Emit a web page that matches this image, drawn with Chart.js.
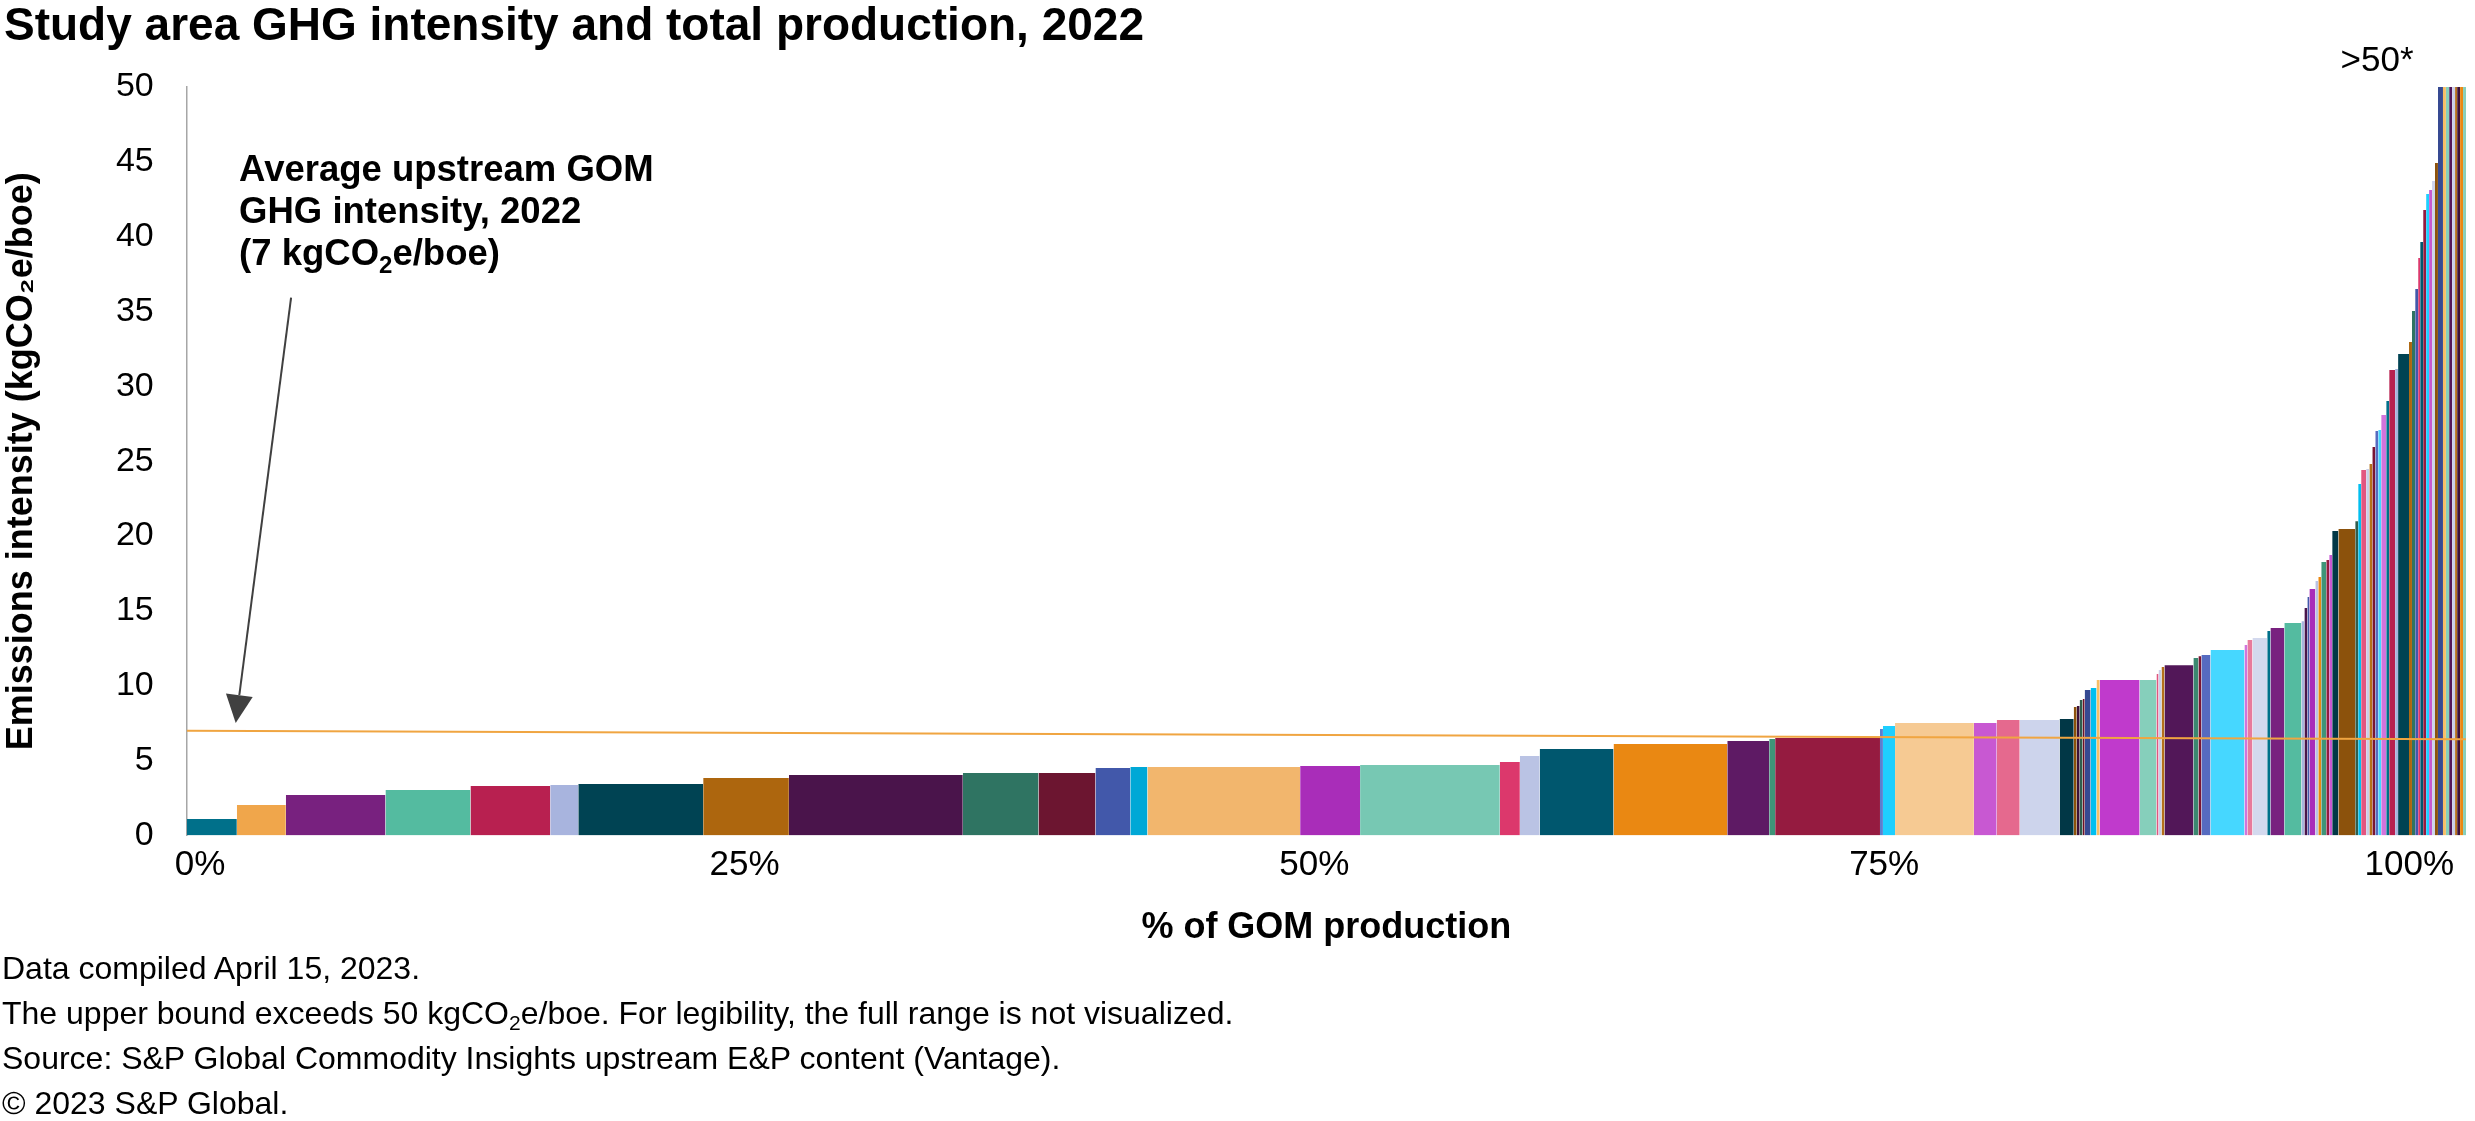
<!DOCTYPE html>
<html>
<head>
<meta charset="utf-8">
<script src="https://cdn.jsdelivr.net/npm/chart.js@4.4.0/dist/chart.umd.min.js"></script>
<style>
html,body{margin:0;padding:0;background:#fff;}
body{width:2475px;height:1121px;position:relative;overflow:hidden;font-family:'Liberation Sans',Arial,sans-serif;color:#000;}
#wrap{position:absolute;left:0;top:0;width:2475px;height:950px;}
#title{position:absolute;left:4px;top:-4px;font-size:46px;font-weight:bold;line-height:56px;white-space:nowrap;}
#notes{position:absolute;left:2px;top:946px;font-size:32px;line-height:45px;white-space:nowrap;}
#notes sub{font-size:21px;line-height:0;vertical-align:-6px;}
</style>
</head>
<body>
<div id="wrap"><canvas id="c"></canvas></div>
<div id="title">Study area GHG intensity and total production, 2022</div>
<div id="notes">Data compiled April 15, 2023.<br>The upper bound exceeds 50 kgCO<sub>2</sub>e/boe. For legibility, the full range is not visualized.<br>Source: S&amp;P Global Commodity Insights upstream E&amp;P content (Vantage).<br>© 2023 S&amp;P Global.</div>
<script>
const FONT = "'Liberation Sans', Arial, sans-serif";

// Share of GOM production per field (% of total), sorted by intensity
const shares = [
 2.20,2.15,4.37,3.73,3.50,1.23,5.48,3.76,7.63,3.32,
 2.50,1.53,0.75,6.70,2.63,6.13,0.88,0.87,3.24,4.99,
 1.84,0.26,4.60,0.13,0.53,3.46,1.00,1.01,1.75,0.62,
 0.13,0.13,0.13,0.09,0.26,0.26,0.14,1.75,0.74,0.09,
 0.13,0.13,1.27,0.22,0.13,0.40,1.49,0.13,0.22,0.65,
 0.14,0.61,0.75,0.13,0.13,0.09,0.26,0.13,0.13,0.22,
 0.13,0.13,0.27,0.74,0.13,0.13,0.22,0.14,0.13,0.13,
 0.13,0.13,0.22,0.13,0.26,0.13,0.48,0.13,0.14,0.13,
 0.09,0.13,0.13,0.13,0.13,0.13,0.13,0.22,0.13,0.14,
 0.13,0.13,0.09,0.13,0.13,0.13
];

// GHG intensity per field (kgCO2e/boe)
const intensity = [
 1.10,2.04,2.71,3.04,3.31,3.37,3.44,3.84,4.04,4.17,
 4.17,4.51,4.58,4.58,4.64,4.71,4.91,5.31,5.78,6.11,
 6.31,6.45,6.51,7.11,7.31,7.51,7.51,7.71,7.71,7.78,
 8.58,8.65,9.05,9.12,9.72,9.85,10.38,10.38,10.38,10.78,
 11.05,11.25,11.38,11.85,11.98,12.05,12.39,12.73,13.06,13.19,
 13.66,13.86,14.19,14.32,15.19,15.93,16.46,17.00,17.27,18.27,
 18.40,18.74,20.34,20.47,21.00,23.48,24.42,24.48,24.82,25.95,
 27.02,27.09,28.09,29.03,31.10,31.17,32.17,32.97,35.04,36.50,
 38.58,39.64,41.78,42.85,43.12,43.72,44.92,55,60,65,
 72,80,90,110,140,190
];

// Average upstream GOM GHG intensity line
const avgX = [0, 100];
const avgY = [7.0, 6.43];

// Axis ticks
const xTickValues = [0, 25, 50, 75, 100];
const yTickStep = 5;
const yMax = 50;

const barColors = [
 '#00708a','#f0a64b','#78217f','#54bba0','#b82050','#a8b4de','#004353','#ad660e','#4a144b','#2f7462',
 '#6c1530','#4258aa','#00a8d6','#f2b66d','#a92db9','#77c8b3','#dc386c','#bac3e4','#00576e','#ea8812',
 '#5e1a64','#3f9478','#951b40','#5b7fd0','#1ecfff','#f6ca93','#c858d2','#e5698e','#cdd4ec','#013746',
 '#8c520c','#3c1139','#2f5e4e','#6f1027','#364a92','#00bff0','#f7be66','#c03acc','#86cfbb','#e25680',
 '#c9cfe8','#b5701a','#521758','#3b8870','#7a1532','#566bc0','#46d7ff','#d274dc','#e87a9c','#d3d9ee',
 '#00708a','#78217f','#54bba0','#a8b4de','#4a144b','#4258aa','#a92db9','#bac3e4','#ea8812','#3f9478',
 '#951b40','#c858d2','#013746','#8c520c','#2f5e4e','#00bff0','#e25680','#c9cfe8','#b5701a','#7a1532',
 '#566bc0','#46d7ff','#d274dc','#00708a','#b82050','#a8b4de','#004353','#ad660e','#2f7462','#4258aa',
 '#dc386c','#00576e','#951b40','#1ecfff','#c858d2','#cdd4ec','#8c520c','#364a92','#f7be66','#86cfbb',
 '#521758','#c9cfe8','#b5701a','#3c1139','#ea8812','#86cfbb'
];

// Build datasets: each field is a filled step from its cumulative start to end
const starts = [];
let acc = 0;
shares.forEach(s => { starts.push(acc); acc += s; });

const datasets = intensity.map((v, i) => ({
  type: 'line',
  data: [{x: starts[i], y: v}, {x: starts[i] + shares[i], y: v}],
  backgroundColor: barColors[i],
  borderColor: 'rgba(0,0,0,0)',
  borderWidth: 0,
  pointRadius: 0,
  fill: 'origin',
  order: 1
}));
datasets.unshift({
  type: 'line',
  data: avgX.map((x, i) => ({x: x, y: avgY[i]})),
  borderColor: '#f0a541',
  borderWidth: 2,
  pointRadius: 0,
  fill: false,
  order: 0
});

// Annotation placement (data units)
const noteAt = [2.3, 43.72];
const noteLineGap = 42;
const noteLines = [
  [{t: 'Average upstream GOM'}],
  [{t: 'GHG intensity, 2022'}],
  [{t: '(7 kgCO'}, {t: '2', sub: true}, {t: 'e/boe)'}]
];
const arrowFrom = [4.58, 35.93];
const arrowTo = [2.15, 7.52];
const capLabel = '>50*';
const capAt = [96.1, 51.07];

const annotationPlugin = {
  id: 'annotations',
  afterDraw(chart) {
    const {ctx, scales: {x, y}} = chart;
    ctx.save();
    ctx.fillStyle = '#000';
    ctx.textAlign = 'left';
    ctx.textBaseline = 'alphabetic';
    const x0 = x.getPixelForValue(noteAt[0]);
    const y0 = y.getPixelForValue(noteAt[1]);
    noteLines.forEach((segs, i) => {
      let cx = x0;
      const by = y0 + i * noteLineGap;
      segs.forEach(seg => {
        ctx.font = seg.sub ? 'bold 24px ' + FONT : 'bold 36.5px ' + FONT;
        ctx.fillText(seg.t, cx, by + (seg.sub ? 8 : 0));
        cx += ctx.measureText(seg.t).width;
      });
    });
    // arrow
    const ax = x.getPixelForValue(arrowFrom[0]), ay = y.getPixelForValue(arrowFrom[1]);
    const bx = x.getPixelForValue(arrowTo[0]), by2 = y.getPixelForValue(arrowTo[1]);
    const dx = bx - ax, dy = by2 - ay, len = Math.hypot(dx, dy);
    const ux = dx / len, uy = dy / len;
    const headLen = 28, headHalf = 13.5;
    const baseX = bx - ux * headLen, baseY = by2 - uy * headLen;
    ctx.strokeStyle = '#404040';
    ctx.fillStyle = '#404040';
    ctx.lineWidth = 2;
    ctx.beginPath();
    ctx.moveTo(ax, ay);
    ctx.lineTo(baseX, baseY);
    ctx.stroke();
    ctx.beginPath();
    ctx.moveTo(bx, by2);
    ctx.lineTo(baseX - uy * headHalf, baseY + ux * headHalf);
    ctx.lineTo(baseX + uy * headHalf, baseY - ux * headHalf);
    ctx.closePath();
    ctx.fill();
    // >50* label
    ctx.fillStyle = '#000';
    ctx.font = '35px ' + FONT;
    ctx.textAlign = 'center';
    ctx.fillText(capLabel, x.getPixelForValue(capAt[0]), y.getPixelForValue(capAt[1]));
    ctx.restore();
  }
};

Chart.defaults.font.family = FONT;
Chart.defaults.color = '#000';

new Chart(document.getElementById('c'), {
  type: 'line',
  data: {datasets: datasets},
  options: {
    responsive: true,
    maintainAspectRatio: false,
    devicePixelRatio: 1,
    animation: false,
    events: [],
    layout: {padding: {top: 87, right: 5, left: 0, bottom: 0}},
    plugins: {legend: {display: false}, tooltip: {enabled: false}, title: {display: false}},
    scales: {
      x: {
        type: 'linear',
        min: 0,
        max: 100,
        afterBuildTicks: s => { s.ticks = xTickValues.map(v => ({value: v})); },
        afterFit: s => { s.height = 114.5; },
        ticks: {
          callback: v => v + '%',
          align: 'inner',
          labelOffset: -12,
          padding: 9,
          autoSkip: false,
          maxRotation: 0,
          font: {size: 35},
          color: '#000'
        },
        grid: {display: false, drawTicks: false},
        border: {display: false},
        title: {display: true, text: '% of GOM production', font: {size: 36, weight: 'bold'}, color: '#000', padding: 0}
      },
      y: {
        type: 'linear',
        min: 0,
        max: yMax,
        afterFit: s => { s.width = 186.7; },
        ticks: {stepSize: yTickStep, padding: 33, font: {size: 34}, color: '#000'},
        grid: {display: false, drawTicks: false},
        border: {display: true, color: '#a6a6a6', width: 1.5},
        title: {display: true, text: 'Emissions intensity (kgCO₂e/boe)', font: {size: 36, weight: 'bold'}, color: '#000', padding: 0}
      }
    }
  },
  plugins: [annotationPlugin]
});
</script>
</body>
</html>
